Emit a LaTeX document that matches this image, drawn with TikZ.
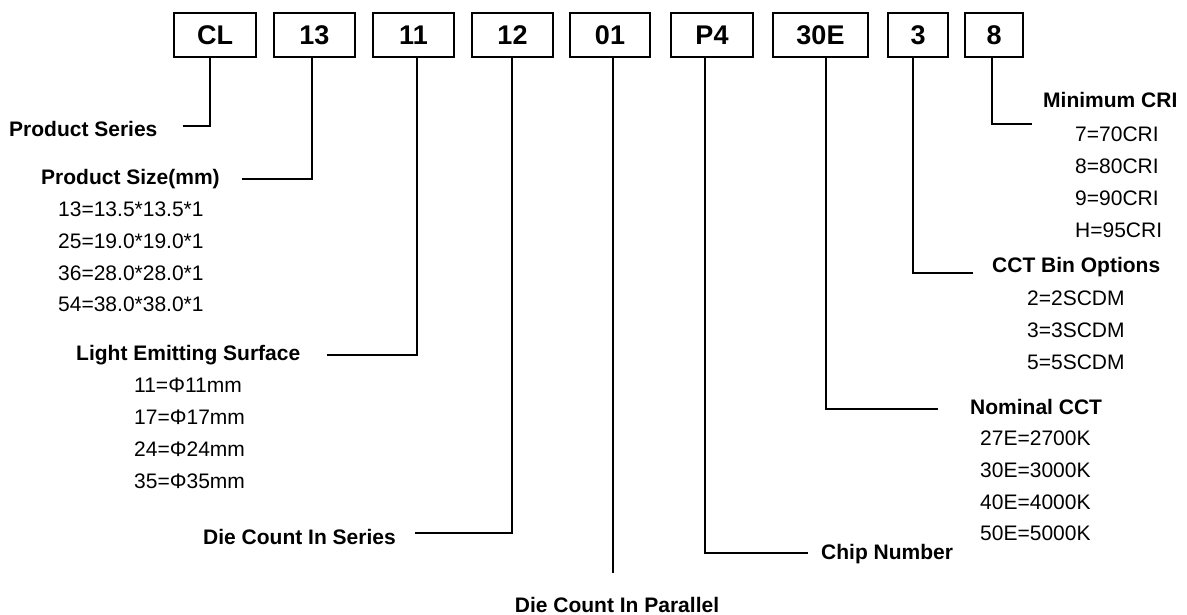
\documentclass[tikz,border=0pt]{standalone}
\usepackage{fontspec}
\setmainfont{Liberation Sans}
\begin{document}
\begin{tikzpicture}[x=1pt,y=-1pt,
  codebox/.style={draw, line width=1.8pt, minimum height=44pt, inner sep=0pt, font=\fontsize{27}{30}\selectfont\bfseries},
  lbl/.style={anchor=base west, inner sep=0pt, font=\fontsize{21}{24}\selectfont\bfseries},
  val/.style={anchor=base west, inner sep=0pt, font=\fontsize{21}{24}\selectfont},
  conn/.style={line width=2.2pt}]
\useasboundingbox (0,0) rectangle (1187,615);
% code boxes
\node[codebox, minimum width=82pt] (CL)  at (215,35) {CL};
\node[codebox, minimum width=81pt] (B13) at (314.5,35) {13};
\node[codebox, minimum width=81pt] (B11) at (413.5,35) {11};
\node[codebox, minimum width=81pt] (B12) at (512.5,35) {12};
\node[codebox, minimum width=80pt] (B01) at (610,35) {01};
\node[codebox, minimum width=82pt] (BP4) at (712,35) {P4};
\node[codebox, minimum width=95pt] (B30E) at (820.5,35) {30E};
\node[codebox, minimum width=60pt] (B3) at (918,35) {3};
\node[codebox, minimum width=58pt] (B8) at (994,35) {8};
% labels
\node[lbl] (ps) at (9,137) {Product Series};
\node[lbl] (psz) at (41,184.5) {Product Size(mm)};
\node[val] (v13) at (58,216.5) {13=13.5*13.5*1};
\node[val] (v25) at (58,248.5) {25=19.0*19.0*1};
\node[val] (v36) at (58,280.5) {36=28.0*28.0*1};
\node[val] (v54) at (58,311.5) {54=38.0*38.0*1};
\node[lbl] (les) at (76,360.5) {Light Emitting Surface};
\node[val] (l11) at (134,392.5) {11=Φ11mm};
\node[val] (l17) at (134,424.5) {17=Φ17mm};
\node[val] (l24) at (134,456.5) {24=Φ24mm};
\node[val] (l35) at (134,488.5) {35=Φ35mm};
\node[lbl] (dcs) at (203,544.5) {Die Count In Series};
\node[lbl, anchor=base] (dcp) at (617,612.5) {Die Count In Parallel};
\node[lbl] (chip) at (821,559.5) {Chip Number};
\node[lbl] (ncct) at (970,414.5) {Nominal CCT};
\node[val] (c27) at (980,445.5) {27E=2700K};
\node[val] (c30) at (980,477.5) {30E=3000K};
\node[val] (c40) at (980,509.5) {40E=4000K};
\node[val] (c50) at (980,540.5) {50E=5000K};
\node[lbl] (cbo) at (992,272.5) {CCT Bin Options};
\node[val] (s2) at (1027,305.5) {2=2SCDM};
\node[val] (s3) at (1027,337.5) {3=3SCDM};
\node[val] (s5) at (1027,369.5) {5=5SCDM};
\node[lbl] (mcri) at (1043,108) {Minimum CRI};
\node[val] (r7) at (1075,141.5) {7=70CRI};
\node[val] (r8) at (1075,173.5) {8=80CRI};
\node[val] (r9) at (1075,205.5) {9=90CRI};
\node[val] (rH) at (1075,237.5) {H=95CRI};
% connector ends
\coordinate (e1) at (183,126);
\coordinate (e2) at (242,179);
\coordinate (e3) at (327,355);
\coordinate (e4) at (415,533);
\coordinate (e5) at (613,573);
\coordinate (e6) at (808,553);
\coordinate (e7) at (938,409);
\coordinate (e8) at (973,273);
\coordinate (e9) at (1032,124);
% connectors
\draw[conn] ([xshift=-5pt]CL.south) |- (e1);
\draw[conn] ([xshift=-2.5pt]B13.south) |- (e2);
\draw[conn] ([xshift=3.5pt]B11.south) |- (e3);
\draw[conn] ([xshift=-0.5pt]B12.south) |- (e4);
\draw[conn] ([xshift=3pt]B01.south) -- (e5);
\draw[conn] ([xshift=-7pt]BP4.south) |- (e6);
\draw[conn] ([xshift=5.5pt]B30E.south) |- (e7);
\draw[conn] ([xshift=-5pt]B3.south) |- (e8);
\draw[conn] ([xshift=-2pt]B8.south) |- (e9);
\end{tikzpicture}
\end{document}
